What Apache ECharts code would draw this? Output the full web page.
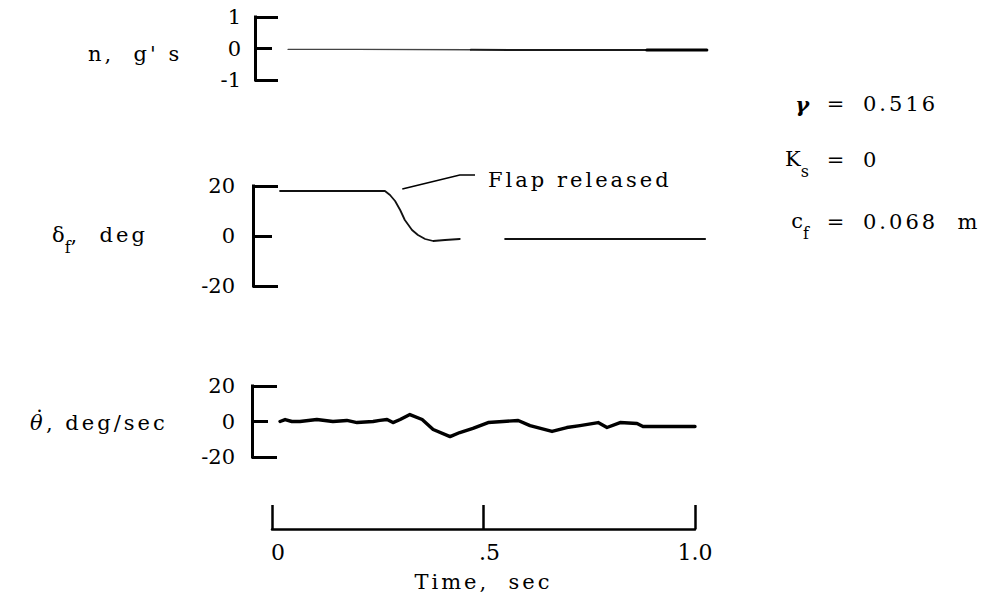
<!DOCTYPE html>
<html>
<head>
<meta charset="utf-8">
<script src="https://cdn.jsdelivr.net/npm/echarts@6/dist/echarts.min.js"></script>
<style>
  html, body { margin: 0; padding: 0; background: #fff; }
  #chart { width: 983px; height: 609px; }
  /* word labels use a wider tracking than the numerals */
  #chart text[style*=", serif"] { letter-spacing: 3px; }
</style>
</head>
<body>
<div id="chart"></div>
<script>
// ---- time base ----
const timeTicks = [0, 0.5, 1.0];
const timeTickLabels = ['0', '.5', '1.0'];

// ---- normal load factor n, g units ----
const loadTicks = ['-1', '0', '1'];
const loadTime  = [0.038, 0.20, 0.47, 0.70, 0.886, 1.028];
const loadValue = [-0.03, -0.03, -0.04, -0.05, -0.05, -0.05];

// ---- flap deflection, deg (trace drops out between 0.45 and 0.55 s) ----
const flapTicks = ['-20', '0', '20'];
const flapTime  = [0.019, 0.10, 0.20, 0.267, 0.279, 0.291, 0.303, 0.314, 0.331, 0.345, 0.362, 0.381, 0.409, 0.444, 0.50, 0.551, 0.70, 0.85, 1.024];
const flapValue = [18, 18, 18, 18, 16.4, 14, 10.4, 6.4, 2.4, 0.4, -1.2, -2, -1.6, -1.2, null, -1.2, -1.2, -1.2, -1.2];

// ---- pitch rate, deg/sec ----
const pitchTicks = ['-20', '0', '20'];
const pitchTime  = [0.019, 0.031, 0.047, 0.066, 0.106, 0.144, 0.177, 0.201, 0.239, 0.255, 0.272, 0.286, 0.303, 0.326, 0.355, 0.381, 0.421, 0.444, 0.475, 0.511, 0.546, 0.582, 0.610, 0.662, 0.697, 0.728, 0.771, 0.792, 0.823, 0.863, 0.877, 1.000];
const pitchValue = [0, 1.1, 0, 0, 1.1, 0, 0.6, -0.6, 0, 0.6, 1.1, -0.6, 1.1, 3.9, 1.1, -4.5, -8.5, -6.2, -3.9, -0.6, 0, 0.6, -2.3, -5.6, -3.4, -2.3, -0.6, -3.4, -0.6, -1.1, -2.8, -2.8];

// ---- leader for the flap note, in flap-panel data units ----
const flapNoteAnchor = [0.308, 18.8];
const flapNoteElbow  = [0.444, 24.4];
const flapNoteEnd    = [0.480, 24.4];

const NUM_FONT  = "'DejaVu Serif'";
const WORD_FONT = "'DejaVu Serif', serif";
const INK = '#000';

const zip = (ts, vs) => ts.map((t, i) => [t, vs[i] === null ? '-' : vs[i]]);

// layout of the shared time scale
const T0_X = 272, PX_PER_SEC = 423, T_END = 1.04;

const panels = [
  { left: 255, top: 17,  height: 63,  min: -1,  max: 1,  labels: loadTicks,  longTick: 23, shortTick: 17, margin: 14 },
  { left: 253, top: 186, height: 100, min: -20, max: 20, labels: flapTicks,  longTick: 25, shortTick: 19, margin: 18 },
  { left: 252, top: 386, height: 71,  min: -20, max: 20, labels: pitchTicks, longTick: 25, shortTick: 16, margin: 17 }
];

const grid = panels.map(p => ({
  left: p.left, top: p.top, height: p.height,
  width: T0_X + PX_PER_SEC * T_END - p.left
}));
grid.push({ left: T0_X, top: 480, width: PX_PER_SEC, height: 49 });

const xAxis = panels.map((p, i) => ({
  gridIndex: i, type: 'value', show: false,
  min: (p.left - T0_X) / PX_PER_SEC, max: T_END
}));
xAxis.push({
  gridIndex: 3, type: 'value', position: 'bottom', min: 0, max: 1, interval: 0.5,
  axisLine: { show: true, lineStyle: { color: INK, width: 2.5 } },
  axisTick: { show: true, inside: true, length: 24, lineStyle: { color: INK, width: 2.5 } },
  splitLine: { show: false },
  axisLabel: {
    show: true, showMinLabel: true, showMaxLabel: true, margin: 12,
    color: INK, fontFamily: NUM_FONT, fontSize: 22,
    formatter: v => {
      const i = timeTicks.indexOf(v);
      return i === 2 ? timeTickLabels[i] : '{r|' + timeTickLabels[i] + '}';
    },
    rich: { r: { fontFamily: NUM_FONT, fontSize: 22, color: INK, padding: [0, 0, 0, 12] } }
  },
  name: 'Time,  sec', nameLocation: 'middle', nameGap: 42,
  nameTextStyle: { color: INK, fontFamily: WORD_FONT, fontSize: 21 }
});

const yAxis = [];
panels.forEach((p, i) => {
  // bracket: vertical line with long end ticks
  yAxis.push({
    gridIndex: i, type: 'value', position: 'left', min: p.min, max: p.max, interval: p.max - p.min,
    axisLine: { show: true, onZero: false, lineStyle: { color: INK, width: 3, cap: 'square' } },
    axisTick: { show: true, inside: true, length: p.longTick, lineStyle: { color: INK, width: 3 } },
    axisLabel: { show: false }, splitLine: { show: false }
  });
  // zero tick and the numeric labels
  const step = (p.max - p.min) / 2;
  yAxis.push({
    gridIndex: i, type: 'value', position: 'left', offset: 0, min: p.min, max: p.max, interval: step,
    axisLine: { show: false, onZero: false },
    axisTick: { show: true, inside: true, length: p.shortTick, lineStyle: { color: INK, width: 3 } },
    splitLine: { show: false },
    axisLabel: {
      show: true, showMinLabel: true, showMaxLabel: true, margin: p.margin,
      color: INK, fontFamily: NUM_FONT, fontSize: 21,
      formatter: v => p.labels[Math.round((v - p.min) / step)]
    }
  });
});
yAxis.push({ gridIndex: 3, type: 'value', min: 0, max: 1, show: false });

const lineSeries = (xi, yi, data, width, color) => ({
  type: 'line', xAxisIndex: xi, yAxisIndex: yi, data,
  symbol: 'none', showSymbol: false, connectNulls: false, clip: false,
  silent: true, animation: false,
  lineStyle: { color, width, join: 'round', cap: 'round' }
});

const loadPts = zip(loadTime, loadValue);
const series = [
  lineSeries(0, 0, loadPts.slice(0, 3), 1.3, '#444'),
  lineSeries(0, 0, loadPts.slice(2, 5), 2, '#1a1a1a'),
  lineSeries(0, 0, loadPts.slice(4), 3, INK),
  lineSeries(1, 2, zip(flapTime, flapValue), 1.8, '#111'),
  lineSeries(2, 4, zip(pitchTime, pitchValue), 3.4, INK)
];

const chart = echarts.init(document.getElementById('chart'), null, { renderer: 'svg' });
chart.setOption({
  backgroundColor: '#fff',
  animation: false,
  grid, xAxis, yAxis, series
});

// text helpers
const label = (x, y, text, rich, align, extra) => ({
  type: 'text', x, y, silent: true,
  style: Object.assign({
    text, rich, fill: INK, fontFamily: WORD_FONT, fontSize: 21,
    align: align || 'left', verticalAlign: 'middle',
    textAlign: align || 'left', textVerticalAlign: 'middle'
  }, extra || {})
});
const main = { fontFamily: WORD_FONT, fontSize: 21, lineHeight: 21, verticalAlign: 'top', fill: INK };
const sub  = { fontFamily: WORD_FONT, fontSize: 16, lineHeight: 31, verticalAlign: 'bottom', fill: INK };

const px = p => chart.convertToPixel({ xAxisIndex: 1, yAxisIndex: 2 }, p);
const a = px(flapNoteAnchor), b = px(flapNoteElbow), c = px(flapNoteEnd);

chart.setOption({
  graphic: [
    // panel titles
    label(88, 54, 'n,  g\' s'),
    label(52, 240, '{m|δ}{s|f}{m|,  deg}', { m: main, s: sub }),
    label(30, 423, 'θ', null, 'left', { fontFamily: NUM_FONT, fontStyle: 'italic' }),
    label(34, 419, '˙', null, 'left', { fontFamily: NUM_FONT, fontSize: 22 }),
    label(46, 423, ', deg/sec'),
    // flap note with leader
    {
      type: 'polyline', silent: true,
      shape: { points: [a, b, c] },
      style: { stroke: INK, lineWidth: 1.6, fill: null }
    },
    label(c[0] + 13, c[1] + 5, 'Flap released'),
    // test parameters
    label(812, 104, 'γ', null, 'right', { fontStyle: 'italic', fontWeight: 'bold' }),
    label(812, 164, '{m|K}{s|s}', { m: main, s: sub }, 'right'),
    label(812, 226, '{m|c}{s|f}', { m: main, s: sub }, 'right'),
    label(837, 104, '=', null, 'center'),
    label(837, 160, '=', null, 'center'),
    label(837, 222, '=', null, 'center'),
    label(863, 104, '0.516'),
    label(863, 160, '0'),
    label(863, 222, '0.068  m')
  ]
});
</script>
</body>
</html>
